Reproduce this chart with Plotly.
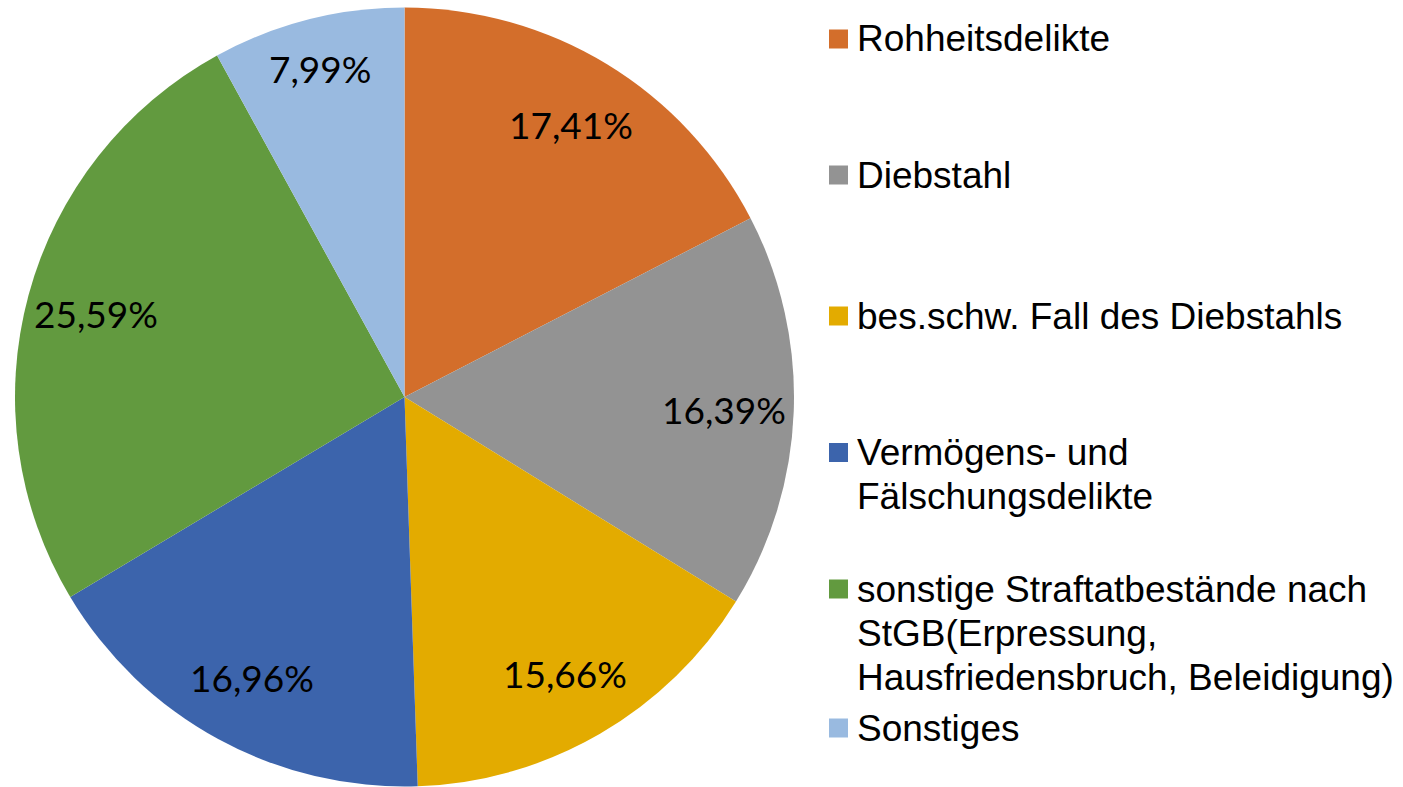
import numpy as np
import plotly.graph_objects as go

# Data
categories = [
    "Rohheitsdelikte",
    "Diebstahl",
    "bes.schw. Fall des Diebstahls",
    "Vermögens- und Fälschungsdelikte",
    "sonstige Straftatbestände nach StGB(Erpressung, Hausfriedensbruch, Beleidigung)",
    "Sonstiges",
]
shares = [17.41, 16.39, 15.66, 16.96, 25.59, 7.99]
legend_lines = [
    ["Rohheitsdelikte"],
    ["Diebstahl"],
    ["bes.schw. Fall des Diebstahls"],
    ["Vermögens- und", "Fälschungsdelikte"],
    ["sonstige Straftatbestände nach", "StGB(Erpressung,", "Hausfriedensbruch, Beleidigung)"],
    ["Sonstiges"],
]
colors = ["#D36E2B", "#939393", "#E3AB00", "#3C64AC", "#629A3F", "#99BAE0"]

# Layout constants (pixels)
W, H = 1403, 787
CX, CY, R = 404.5, 397.0, 389.5
LABEL_R = 0.82          # label distance as fraction of radius
NARROW_BOOST = 0.05     # narrow slices get their label pushed outward
LEGEND_FIRST_LINE_Y = [39, 175, 316, 452.5, 589, 728]
LEGEND_LINE_STEP = 44
LEGEND_SQ_X, LEGEND_SQ_SIZE, LEGEND_TEXT_X = 829, 19, 855
FONT_LEGEND = dict(family="Liberation Sans, Arial", size=37, color="#000000")
FONT_LABEL = dict(family="Lato, Open Sans", size=37, color="#000000")

fig = go.Figure()
fig.add_trace(go.Pie(
    labels=categories,
    values=shares,
    sort=False,
    direction="clockwise",
    rotation=0,
    marker=dict(colors=colors, line=dict(width=0)),
    textinfo="none",
    hoverinfo="label+percent",
    showlegend=False,
    domain=dict(x=[(CX - R) / W, (CX + R) / W], y=[1 - (CY + R) / H, 1 - (CY - R) / H]),
))

annotations = []
shapes = []

# Slice labels at mid-angle of each slice
vals = np.array(shares)
mid = (np.cumsum(vals) - vals / 2) / vals.sum() * 2 * np.pi
for v, a in zip(shares, mid):
    rr = (LABEL_R + (NARROW_BOOST if v < 10 else 0)) * R
    px = CX + rr * np.sin(a)
    py = CY - rr * np.cos(a)
    annotations.append(dict(
        x=px / W, y=1 - py / H, xref="paper", yref="paper",
        text=f"{v:.2f}".replace(".", ",") + "%",
        showarrow=False, font=FONT_LABEL,
        xanchor="center", yanchor="middle",
    ))

# Legend (Excel style)
for lines, color, y0 in zip(legend_lines, colors, LEGEND_FIRST_LINE_Y):
    shapes.append(dict(
        type="rect", xref="paper", yref="paper",
        x0=LEGEND_SQ_X / W, x1=(LEGEND_SQ_X + LEGEND_SQ_SIZE) / W,
        y0=1 - (y0 + LEGEND_SQ_SIZE / 2) / H, y1=1 - (y0 - LEGEND_SQ_SIZE / 2) / H,
        fillcolor=color, line=dict(width=0),
    ))
    for i, line in enumerate(lines):
        annotations.append(dict(
            x=LEGEND_TEXT_X / W, y=1 - (y0 + i * LEGEND_LINE_STEP) / H,
            xref="paper", yref="paper", text=line, showarrow=False,
            font=FONT_LEGEND, xanchor="left", yanchor="middle",
        ))

fig.update_layout(
    width=W,
    height=H,
    margin=dict(l=0, r=0, t=0, b=0),
    paper_bgcolor="white",
    plot_bgcolor="white",
    annotations=annotations,
    shapes=shapes,
)

# drop the default 8px page margin so the figure sits at the window origin
fig.write_html(
    "out.html",
    config={"displayModeBar": False},
    post_script="document.body.style.margin='0px';",
)
